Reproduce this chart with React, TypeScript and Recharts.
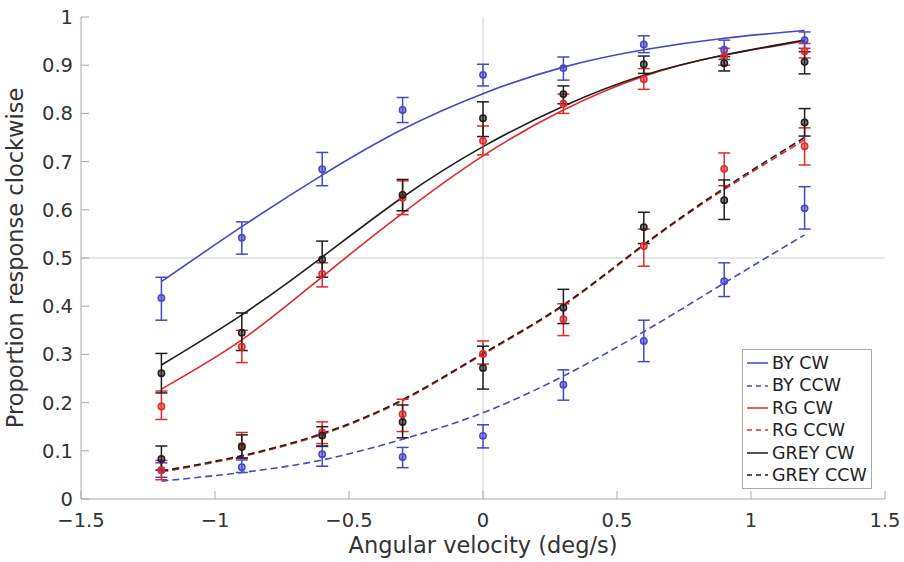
import React from "react"
import {
  ComposedChart,
  Line,
  Scatter,
  ErrorBar,
  XAxis,
  YAxis,
  ReferenceLine,
  Legend,
} from "recharts"

const FONT = "'DejaVu Sans', sans-serif"

// stimulus levels (deg/s)
const velocities = [-1.2, -0.9, -0.6, -0.3, 0, 0.3, 0.6, 0.9, 1.2]
const xTicks = [-1.5, -1, -0.5, 0, 0.5, 1, 1.5]
const yTicks = [0, 0.1, 0.2, 0.3, 0.4, 0.5, 0.6, 0.7, 0.8, 0.9, 1]

// BY CW
const byCwMean = [0.417, 0.542, 0.684, 0.807, 0.88, 0.894, 0.943, 0.932, 0.952]
const byCwLow = [0.371, 0.508, 0.65, 0.781, 0.857, 0.869, 0.926, 0.912, 0.935]
const byCwHigh = [0.46, 0.575, 0.719, 0.833, 0.902, 0.917, 0.961, 0.952, 0.969]
const byCwFit = [0.451, 0.565, 0.672, 0.767, 0.841, 0.896, 0.932, 0.956, 0.972]

// BY CCW
const byCcwMean = [0.06, 0.066, 0.093, 0.087, 0.131, 0.237, 0.328, 0.452, 0.603]
const byCcwLow = [0.045, 0.055, 0.068, 0.065, 0.106, 0.205, 0.285, 0.42, 0.56]
const byCcwHigh = [0.075, 0.081, 0.109, 0.107, 0.154, 0.268, 0.371, 0.49, 0.648]
const byCcwFit = [0.037, 0.055, 0.081, 0.124, 0.179, 0.255, 0.347, 0.448, 0.548]

// RG CW
const rgCwMean = [0.192, 0.316, 0.467, 0.625, 0.743, 0.82, 0.871, 0.918, 0.929]
const rgCwLow = [0.165, 0.283, 0.44, 0.59, 0.714, 0.8, 0.85, 0.9, 0.915]
const rgCwHigh = [0.224, 0.35, 0.49, 0.66, 0.774, 0.84, 0.893, 0.935, 0.945]
const rgCwFit = [0.228, 0.33, 0.461, 0.593, 0.712, 0.807, 0.877, 0.921, 0.95]

// RG CCW
const rgCcwMean = [0.06, 0.11, 0.138, 0.176, 0.301, 0.373, 0.525, 0.685, 0.732]
const rgCcwLow = [0.04, 0.085, 0.115, 0.14, 0.28, 0.339, 0.483, 0.65, 0.693]
const rgCcwHigh = [0.08, 0.138, 0.16, 0.207, 0.328, 0.405, 0.56, 0.718, 0.77]
const rgCcwFit = [0.056, 0.088, 0.134, 0.204, 0.3, 0.401, 0.526, 0.642, 0.745]

// GREY CW
const greyCwMean = [0.261, 0.345, 0.497, 0.631, 0.79, 0.84, 0.902, 0.904, 0.907]
const greyCwLow = [0.22, 0.308, 0.46, 0.598, 0.752, 0.82, 0.883, 0.888, 0.882]
const greyCwHigh = [0.302, 0.386, 0.535, 0.663, 0.824, 0.857, 0.919, 0.918, 0.928]
const greyCwFit = [0.278, 0.382, 0.502, 0.626, 0.731, 0.815, 0.879, 0.921, 0.952]

// GREY CCW
const greyCcwMean = [0.083, 0.108, 0.132, 0.16, 0.272, 0.397, 0.564, 0.62, 0.781]
const greyCcwLow = [0.06, 0.085, 0.11, 0.127, 0.228, 0.364, 0.53, 0.58, 0.753]
const greyCcwHigh = [0.11, 0.133, 0.15, 0.195, 0.317, 0.435, 0.595, 0.662, 0.81]
const greyCcwFit = [0.058, 0.09, 0.136, 0.206, 0.302, 0.403, 0.528, 0.645, 0.75]

const BLUE = "#4747c4"
const RED = "#e02a2a"
const BLACK = "#1e1e1e"

const series = [
  { name: "BY CW", color: BLUE, dashed: false, mean: byCwMean, low: byCwLow, high: byCwHigh, fit: byCwFit },
  { name: "BY CCW", color: BLUE, dashed: true, mean: byCcwMean, low: byCcwLow, high: byCcwHigh, fit: byCcwFit },
  { name: "RG CW", color: RED, dashed: false, mean: rgCwMean, low: rgCwLow, high: rgCwHigh, fit: rgCwFit },
  { name: "RG CCW", color: RED, dashed: true, mean: rgCcwMean, low: rgCcwLow, high: rgCcwHigh, fit: rgCcwFit },
  { name: "GREY CW", color: BLACK, dashed: false, mean: greyCwMean, low: greyCwLow, high: greyCwHigh, fit: greyCwFit },
  { name: "GREY CCW", color: BLACK, dashed: true, mean: greyCcwMean, low: greyCcwLow, high: greyCcwHigh, fit: greyCcwFit },
]

const fmt = (v: number) => String(v).replace("-", "\u2212")

const XTick = ({ x, y, payload }: any) => (
  <g>
    <line x1={x} x2={x} y1={y} y2={y - 8} stroke="#a8a8a8" />
    <text x={x} y={y + 28} textAnchor="middle" fontSize={19.5} fill="#333" fontFamily={FONT}>
      {fmt(payload.value)}
    </text>
  </g>
)

const YTick = ({ x, y, payload }: any) => (
  <g>
    <line x1={x} x2={x + 8} y1={y} y2={y} stroke="#a8a8a8" />
    <text x={x - 8} y={y + 7} textAnchor="end" fontSize={19.5} fill="#333" fontFamily={FONT}>
      {fmt(payload.value)}
    </text>
  </g>
)

const LegendBox = () => (
  <div
    style={{
      border: "1px solid #aaa",
      background: "#fff",
      padding: "2px 4px 2px 3px",
      fontFamily: FONT,
      fontSize: 17.5,
      color: "#222",
      lineHeight: "22.4px",
    }}
  >
    {series.map((s) => (
      <div key={s.name} style={{ display: "flex", alignItems: "center", whiteSpace: "nowrap" }}>
        <svg width={24} height={10} style={{ marginRight: 2 }}>
          <line
            x1={1}
            x2={22}
            y1={5}
            y2={5}
            stroke={s.color}
            strokeWidth={1.5}
            strokeDasharray={s.dashed ? "5 4" : undefined}
          />
        </svg>
        <span>{s.name}</span>
      </div>
    ))}
  </div>
)

export default function App() {
  return (
    <div style={{ position: "absolute", left: 0, top: 0, width: 904, height: 562, background: "#fff" }}>
      <ComposedChart width={904} height={562} margin={{ top: 17, right: 19, left: 0, bottom: 0 }}>
        <XAxis
          type="number"
          dataKey="x"
          domain={[-1.5, 1.5]}
          ticks={xTicks}
          allowDataOverflow
          tickLine={false}
          tickSize={0}
          tickMargin={0}
          tick={<XTick />}
          height={63}
          axisLine={{ stroke: "#a8a8a8" }}
          label={{
            value: "Angular velocity (deg/s)",
            position: "insideBottom",
            offset: 9,
            style: { fontSize: 22.5, fill: "#333", fontFamily: FONT },
          }}
        />
        <YAxis
          type="number"
          domain={[0, 1]}
          ticks={yTicks}
          allowDataOverflow
          tickLine={false}
          tickSize={0}
          tickMargin={0}
          tick={<YTick />}
          width={81}
          axisLine={{ stroke: "#a8a8a8" }}
          label={{
            value: "Proportion response clockwise",
            angle: -90,
            position: "insideLeft",
            offset: 15,
            style: { fontSize: 22.5, fill: "#333", fontFamily: FONT, textAnchor: "middle" },
          }}
        />
        <ReferenceLine x={0} stroke="#cfcfcf" />
        <ReferenceLine y={0.5} stroke="#cfcfcf" />

        {series.map((s) => (
          <Line
            key={s.name + "-fit"}
            name={s.name}
            data={velocities.map((v, i) => ({ x: v, y: s.fit[i] }))}
            dataKey="y"
            type="natural"
            stroke={s.color}
            strokeWidth={1.6}
            strokeDasharray={s.dashed ? "7 4" : undefined}
            dot={false}
            activeDot={false}
            isAnimationActive={false}
          />
        ))}

        {series.map((s) => (
          <Scatter
            key={s.name + "-pts"}
            name={s.name + " data"}
            legendType="none"
            data={velocities.map((v, i) => ({
              x: v,
              y: s.mean[i],
              err: [s.mean[i] - s.low[i], s.high[i] - s.mean[i]],
            }))}
            dataKey="y"
            isAnimationActive={false}
            shape={(p: any) => (
              <circle cx={p.cx} cy={p.cy} r={3.2} fill={s.color} fillOpacity={0.55} stroke={s.color} strokeWidth={1.5} />
            )}
          >
            <ErrorBar dataKey="err" direction="y" width={6} stroke={s.color} strokeWidth={1.5} isAnimationActive={false} />
          </Scatter>
        ))}

        <Legend
          content={<LegendBox />}
          layout="vertical"
          verticalAlign="middle"
          align="center"
          wrapperStyle={{ left: 742, top: 349, width: "auto" }}
        />
      </ComposedChart>
    </div>
  )
}
